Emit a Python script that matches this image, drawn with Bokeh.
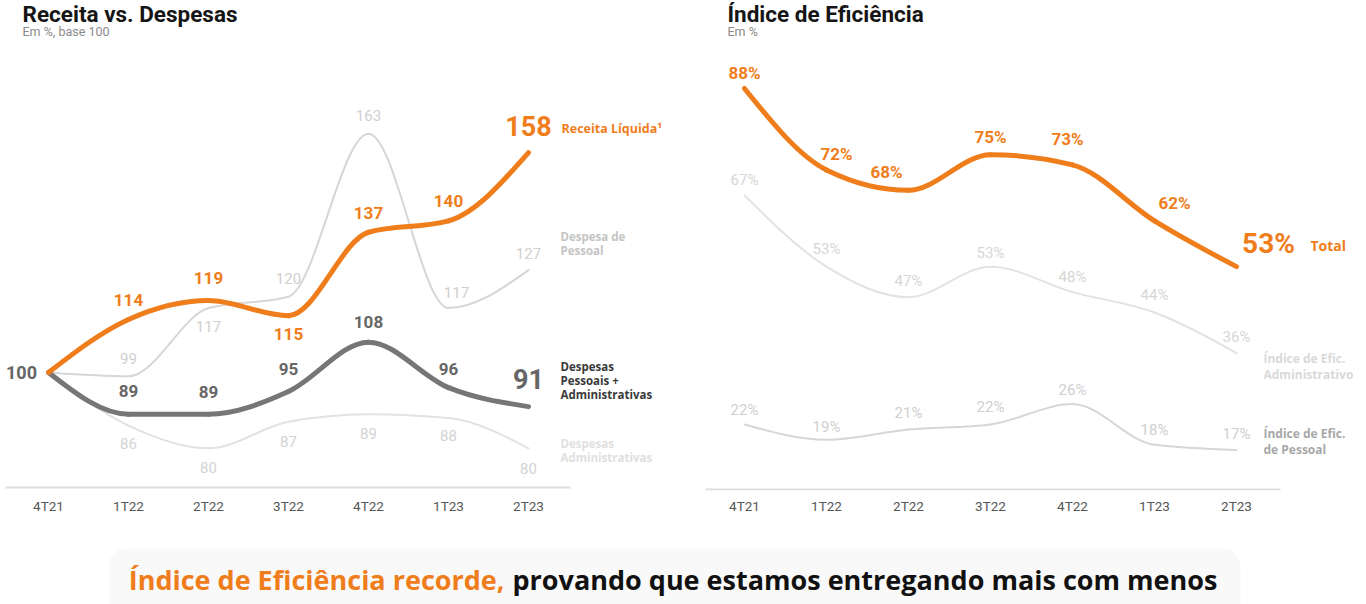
from bokeh.plotting import figure
from bokeh.models import Range1d, FixedTicker
from bokeh.layouts import column, row
from bokeh.embed import file_html
from bokeh.resources import INLINE
from bokeh.core.properties import value

# ---------------- data ----------------
quarters = ["4T21", "1T22", "2T22", "3T22", "4T22", "1T23", "2T23"]

receita = [100, 114, 119, 115, 137, 140, 158]
desp_pessoal = [100, 99, 117, 120, 163, 117, 127]
desp_total = [100, 89, 89, 95, 108, 96, 91]
desp_admin = [100, 86, 80, 87, 89, 88, 80]

ef_total = [88, 72, 68, 75, 73, 62, 53]
ef_admin = [67, 53, 47, 53, 48, 44, 36]
ef_pessoal = [22, 19, 21, 22, 26, 18, 17]

# ---------------- styles ----------------
FONT = value("Roboto")
NFONT = value("Open Sans")
ORANGE = "#F07D1B"
DARK = "#767676"
DARK_TXT = "#666666"
LIGHT = "#d6d6d6"
LIGHTER = "#e2e2e2"


def monotone_bezier(ys):
    """cubic bezier segments for a monotone-x curve through the points"""
    n = len(ys)
    xs = list(range(n))
    h = [xs[i + 1] - xs[i] for i in range(n - 1)]
    s = [(ys[i + 1] - ys[i]) / h[i] for i in range(n - 1)]
    sg = lambda v: -1 if v < 0 else 1
    m = [0.0] * n
    for i in range(1, n - 1):
        p = (s[i - 1] * h[i] + s[i] * h[i - 1]) / (h[i - 1] + h[i])
        m[i] = (sg(s[i - 1]) + sg(s[i])) * min(abs(s[i - 1]), abs(s[i]), 0.5 * abs(p))
    m[0] = (3 * s[0] - m[1]) / 2
    m[-1] = (3 * s[-1] - m[-2]) / 2
    d = dict(x0=[], y0=[], x1=[], y1=[], cx0=[], cy0=[], cx1=[], cy1=[])
    for i in range(n - 1):
        d["x0"].append(xs[i]); d["y0"].append(ys[i])
        d["x1"].append(xs[i + 1]); d["y1"].append(ys[i + 1])
        d["cx0"].append(xs[i] + h[i] / 3); d["cy0"].append(ys[i] + m[i] * h[i] / 3)
        d["cx1"].append(xs[i + 1] - h[i] / 3); d["cy1"].append(ys[i + 1] - m[i + 1] * h[i] / 3)
    return d


def base_fig(w, h, xr, yr):
    p = figure(width=w, height=h, x_range=xr, y_range=yr, output_backend="svg",
               toolbar_location=None, y_axis_location=None,
               min_border_left=0, min_border_right=0, min_border_top=0, min_border_bottom=h - 490)
    p.grid.visible = False
    p.outline_line_color = None
    p.background_fill_color = "white"
    p.border_fill_color = "white"
    ax = p.xaxis[0]
    ax.ticker = FixedTicker(ticks=list(range(len(quarters))))
    ax.major_label_overrides = {i: q for i, q in enumerate(quarters)}
    ax.axis_line_color = None
    ax.major_tick_line_color = None
    ax.minor_tick_line_color = None
    ax.major_tick_out = 0
    ax.major_label_standoff = 7
    ax.major_label_text_font = "Roboto"
    ax.major_label_text_font_size = "13.5px"
    ax.major_label_text_color = "#555555"
    return p


def labels(p, ys, texts, dys, ppu, color, size, bold=True, dxs=None, step=1.0):
    n = len(ys)
    dxs = dxs or [0] * n
    xs = [i + dxs[i] / step for i in range(n) if texts[i]]
    yy = [ys[i] - dys[i] / ppu for i in range(n) if texts[i]]
    tt = [t for t in texts if t]
    p.text(x=xs, y=yy, text=tt, text_font=FONT, text_font_size=size,
           text_font_style="bold" if bold else "normal", text_color=color,
           text_align="center", text_baseline="middle")


def names(p, fx, fy, px, py, txt, color, size="11.5px"):
    p.text(x=[fx(px)], y=[fy(py)], text=[txt], text_font=NFONT, text_font_size=size,
           text_font_style="bold", text_color=color, text_align="left",
           text_baseline="middle", text_line_height=0.95)


# ================= left chart =================
X0, DX, Y100, PPU = 48, 80, 372, 3.79
px1 = lambda px: (px - X0) / DX
py1 = lambda py: 100 + (Y100 - py) / PPU
p1 = base_fig(683, 545, Range1d(px1(0), px1(683)), Range1d(py1(490), py1(0)))

p1.segment(x0=[px1(5)], y0=[py1(487)], x1=[px1(570)], y1=[py1(487)], line_color="#dddddd", line_width=2)

for ys, col, lw in [(desp_admin, LIGHTER, 2), (desp_pessoal, LIGHT, 2),
                    (desp_total, DARK, 5), (receita, ORANGE, 5)]:
    p1.bezier(**monotone_bezier(ys), line_color=col, line_width=lw, line_cap="round")

labels(p1, desp_admin, [None] + [str(v) for v in desp_admin[1:]],
       [0, 18, 19, 20, 19, 18, 20], PPU, "#d3d3d3", "15px", bold=False, step=DX)
labels(p1, desp_pessoal, [None] + [str(v) for v in desp_pessoal[1:]],
       [0, -18, 18, -18, -18, -16, -17], PPU, "#d0d0d0", "15px", bold=False,
       dxs=[0, 0, 0, 0, 0, 8, 0], step=DX)
labels(p1, desp_total, [None] + [str(v) for v in desp_total[1:-1]] + [None],
       [0, -23, -22, -22, -20, -19, 0], PPU, DARK_TXT, "17px", step=DX)
labels(p1, receita, [None] + [str(v) for v in receita[1:-1]] + [None],
       [0, -19, -22, 18, -19, -20, 0], PPU, ORANGE, "17px", step=DX)
# big end values and base value
p1.text(x=[6], y=[receita[-1] + 27 / PPU], text=[str(receita[-1])], text_font=FONT,
        text_font_size="27px", text_font_style="bold", text_color=ORANGE,
        text_align="center", text_baseline="middle")
p1.text(x=[6], y=[desp_total[-1] + 28 / PPU], text=[str(desp_total[-1])], text_font=FONT,
        text_font_size="27px", text_font_style="bold", text_color=DARK_TXT,
        text_align="center", text_baseline="middle")
p1.text(x=[px1(21)], y=[receita[0]], text=[str(receita[0])], text_font=FONT,
        text_font_size="18px", text_font_style="bold", text_color=DARK_TXT,
        text_align="center", text_baseline="middle")

names(p1, px1, py1, 561, 128, "Receita Líquida¹", ORANGE, "12.5px")
names(p1, px1, py1, 560, 243, "Despesa de\nPessoal", "#c4c4c4")
names(p1, px1, py1, 560, 380, "Despesas\nPessoais +\nAdministrativas", "#3a3a3a")
names(p1, px1, py1, 560, 450, "Despesas\nAdministrativas", "#e0e0e0")

p1.text(x=[px1(22)], y=[py1(13)], text=["Receita vs. Despesas"], text_font=FONT,
        text_font_size="22.5px", text_font_style="bold", text_color="#151515",
        text_align="left", text_baseline="middle")
p1.text(x=[px1(22)], y=[py1(31)], text=["Em %, base 100"], text_font=FONT,
        text_font_size="12.5px", text_color="#8a8a8a", text_align="left", text_baseline="middle")

# ================= right chart =================
X2, DX2, Y88, PPU2 = 61, 82, 88, 5.09
px2 = lambda px: (px - X2) / DX2
py2 = lambda py: 88 + (Y88 - py) / PPU2
p2 = base_fig(683, 545, Range1d(px2(0), px2(683)), Range1d(py2(490), py2(0)))

p2.segment(x0=[px2(22)], y0=[py2(489)], x1=[px2(597)], y1=[py2(489)], line_color="#dddddd", line_width=2)

for ys, col, lw in [(ef_pessoal, LIGHT, 2), (ef_admin, LIGHTER, 2), (ef_total, ORANGE, 5)]:
    p2.bezier(**monotone_bezier(ys), line_color=col, line_width=lw, line_cap="round")

pct = lambda arr: [f"{v}%" for v in arr]
labels(p2, ef_pessoal, pct(ef_pessoal), [-14, -13, -17, -17, -14, -15, -16], PPU2,
       "#cfcfcf", "15px", bold=False, step=DX2)
labels(p2, ef_admin, pct(ef_admin), [-15, -18, -16, -14, -15, -17, -16], PPU2,
       "#d6d6d6", "15px", bold=False, step=DX2)
labels(p2, ef_total, pct(ef_total)[:-1] + [None], [-16, -16, -18, -18, -26, -18, 0], PPU2,
       ORANGE, "17px", dxs=[0, 10, -22, 0, -5, 20, 0], step=DX2)
p2.text(x=[6 + 32 / DX2], y=[ef_total[-1] + 23 / PPU2], text=[f"{ef_total[-1]}%"], text_font=FONT,
        text_font_size="28px", text_font_style="bold", text_color=ORANGE,
        text_align="center", text_baseline="middle")

names(p2, px2, py2, 1310 - 683, 245, "Total", ORANGE, "14px")
names(p2, px2, py2, 1263 - 683, 366, "Índice de Efic.\nAdministrativo", "#d9d9d9", "12px")
names(p2, px2, py2, 1263 - 683, 441, "Índice de Efic.\nde Pessoal", "#a8a8a8", "12px")

p2.text(x=[px2(727 - 683)], y=[py2(13)], text=["Índice de Eficiência"], text_font=FONT,
        text_font_size="22.5px", text_font_style="bold", text_color="#151515",
        text_align="left", text_baseline="middle")
p2.text(x=[px2(727 - 683)], y=[py2(31)], text=["Em %"], text_font=FONT,
        text_font_size="12.5px", text_color="#8a8a8a", text_align="left", text_baseline="middle")

# ================= bottom banner =================
p3 = figure(width=1366, height=59, x_range=Range1d(0, 1366), y_range=Range1d(59, 0),
            output_backend="svg", toolbar_location=None, x_axis_location=None,
            y_axis_location=None, min_border=0)
p3.grid.visible = False
p3.outline_line_color = None
p3.border_fill_color = "white"
p3.quad(left=[108], right=[1240], top=[3], bottom=[80], fill_color="#f9f9f9",
        line_color=None, border_radius=18)
p3.text(x=[504], y=[34], text=["Índice de Eficiência recorde,"], text_font=NFONT,
        text_font_size="27px", text_font_style="bold", text_color=ORANGE,
        text_align="right", text_baseline="middle")
p3.text(x=[512], y=[34], text=["provando que estamos entregando mais com menos"], text_font=NFONT,
        text_font_size="27px", text_font_style="bold", text_color="#111111",
        text_align="left", text_baseline="middle")

layout = column(row(p1, p2), p3)
open("out.html", "w").write(file_html(layout, INLINE))
